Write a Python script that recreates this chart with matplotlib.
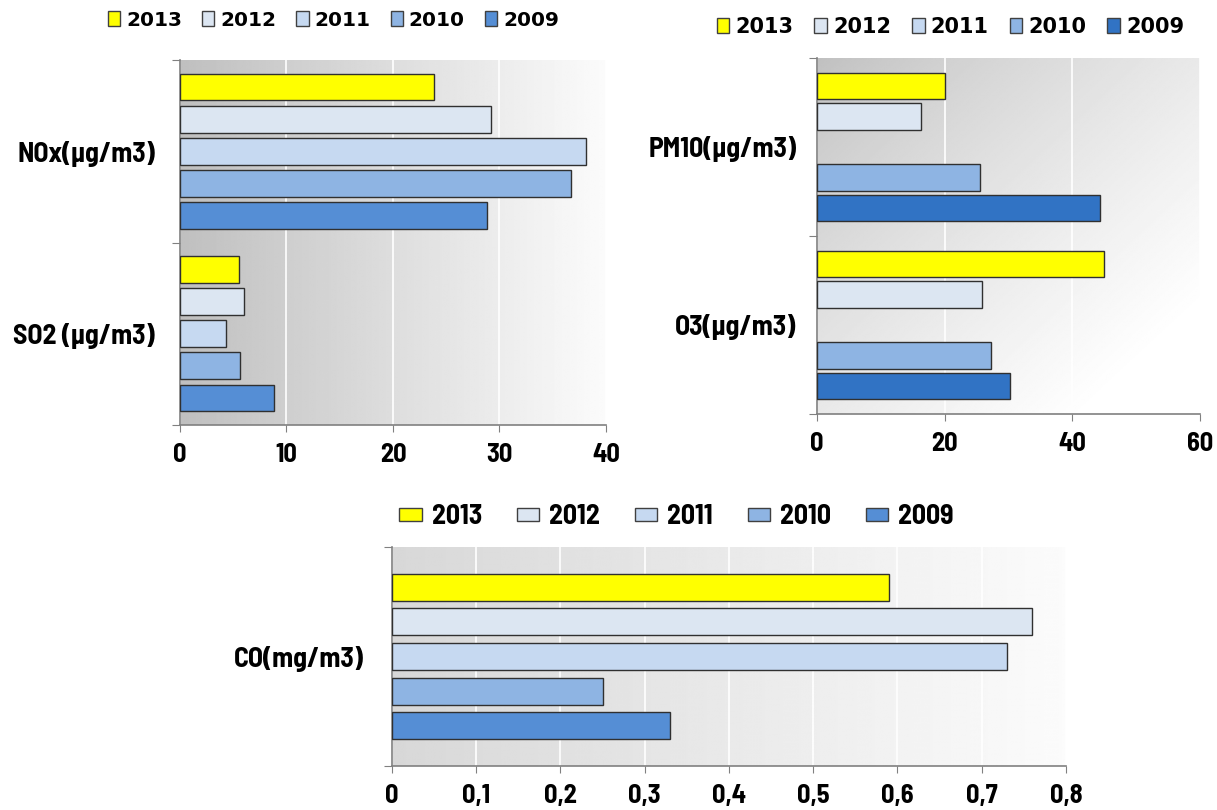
import numpy as np
import matplotlib
matplotlib.use('Agg')
import matplotlib.pyplot as plt
from matplotlib.patches import Patch

years = ['2013', '2012', '2011', '2010', '2009']
colors = ['#FFFF00', '#DCE6F2', '#C6D9F1', '#8EB4E3', '#558ED5']
colors_right = ['#FFFF00', '#DCE6F2', '#C6D9F1', '#8EB4E3', '#3173C4']

# top left chart
cats_left = ['NOx(µg/m3)', 'SO2 (µg/m3)']
nox = [23.9, 29.2, 38.1, 36.7, 28.8]
so2 = [5.5, 6.0, 4.3, 5.6, 8.8]

# top right chart (no 2011 values)
cats_right = ['PM10(µg/m3)', 'O3(µg/m3)']
pm10 = [20.0, 16.3, np.nan, 25.6, 44.4]
o3 = [45.0, 25.9, np.nan, 27.3, 30.2]

# bottom chart
cats_bottom = ['CO(mg/m3)']
co = [0.59, 0.76, 0.73, 0.25, 0.33]

narrow = ['Barlow Semi Condensed', 'Liberation Sans Narrow', 'DejaVu Sans']
wide = ['DejaVu Sans']

fig = plt.figure(figsize=(12.17, 8.10), dpi=100)


def background(ax, diagonal=False, lo=0.75, hi=0.99):
    xx, yy = np.meshgrid(np.linspace(0, 1, 256), np.linspace(0, 1, 256))
    if diagonal:
        t = np.clip((xx + yy) / 1.7, 0, 1) ** 0.8
    else:
        t = xx
    img = lo + (hi - lo) * t
    # row 0 is the top of the axes
    ax.imshow(img, extent=[0, 1, 0, 1], transform=ax.transAxes, cmap='gray',
              vmin=0, vmax=1, aspect='auto', origin='upper', zorder=-2,
              interpolation='bilinear')


def draw(ax, cats, series, cols, xmax, step, pitch, height, ticklabels, diagonal=False,
         lo=0.75, hi=0.99, label_pad=18):
    n = len(cats)
    background(ax, diagonal, lo, hi)
    centers = np.arange(n) + 0.5
    for i in range(len(years)):
        vals = [s[i] for s in series]
        ax.barh(centers + (i - 2) * pitch, vals, height=height, color=cols[i],
                edgecolor='#303030', linewidth=1.0, zorder=3)
    ax.set_xlim(0, xmax)
    ax.set_ylim(n, 0)
    xt = np.arange(0, xmax + step / 2, step)
    ax.set_xticks(xt)
    ax.set_xticklabels(ticklabels, fontfamily=narrow, fontweight='bold', fontsize=19)
    ax.set_yticks(np.arange(n + 1))
    ax.set_yticklabels([])
    ax.set_yticks(centers, minor=True)
    ax.set_yticklabels(cats, minor=True, fontfamily=narrow, fontweight='bold', fontsize=20)
    ax.tick_params(axis='y', which='minor', length=0, pad=label_pad)
    ax.tick_params(axis='y', which='major', length=6, color='#808080', direction='out')
    ax.tick_params(axis='x', length=5, color='#808080', direction='out', pad=8)
    ax.grid(axis='x', color='white', linewidth=1.2, zorder=1)
    ax.set_axisbelow(True)
    for s in ['top', 'right']:
        ax.spines[s].set_visible(False)
    for s in ['left', 'bottom']:
        ax.spines[s].set_color('#808080')
        ax.spines[s].set_linewidth(1.2)


def legend(cols, x, y, font, size, hl, hh, tp, cs):
    handles = [Patch(facecolor=c, edgecolor='#404040', linewidth=1.0) for c in cols]
    fig.legend(handles, years, loc='center', bbox_to_anchor=(x, y), ncol=5, frameon=False,
               prop={'family': font, 'weight': 'bold', 'size': size},
               handlelength=hl, handleheight=hh, handletextpad=tp, columnspacing=cs,
               borderaxespad=0)


ax1 = fig.add_axes([0.1479, 0.4753, 0.350, 0.4506])
draw(ax1, cats_left, [nox, so2], colors, 40, 10, 0.176, 0.147,
     ['0', '10', '20', '30', '40'], lo=0.75, hi=0.985, label_pad=18)

ax2 = fig.add_axes([0.6713, 0.4889, 0.3147, 0.4395])
draw(ax2, cats_right, [pm10, o3], colors_right, 60, 20, 0.171, 0.148,
     ['0', '20', '40', '60'], diagonal=True, lo=0.75, hi=1.0, label_pad=15)

ax3 = fig.add_axes([0.3221, 0.0543, 0.5538, 0.2704])
draw(ax3, cats_bottom, [co], colors, 0.8, 0.1, 0.158, 0.123,
     ['0', '0,1', '0,2', '0,3', '0,4', '0,5', '0,6', '0,7', '0,8'],
     lo=0.845, hi=0.985, label_pad=20)

legend(colors, 0.274, 0.975, wide, 14.5, 0.6, 0.75, 0.3, 1.0)
legend(colors_right, 0.781, 0.967, wide, 15, 0.6, 0.75, 0.3, 1.0)
legend(colors, 0.556, 0.362, narrow, 20, 0.8, 0.36, 0.36, 1.26)

fig.savefig('out.png', dpi=100)
